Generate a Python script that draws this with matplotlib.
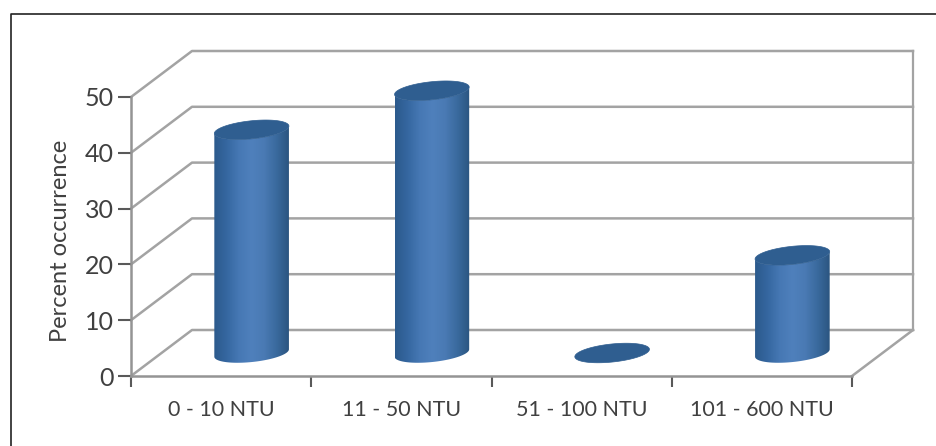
import numpy as np
import matplotlib
matplotlib.use('Agg')
import matplotlib.pyplot as plt
from matplotlib.patches import PathPatch, Polygon
from matplotlib.path import Path
from matplotlib.colors import LinearSegmentedColormap

categories = ['0 - 10 NTU', '11 - 50 NTU', '51 - 100 NTU', '101 - 600 NTU']
percent = [40, 47, 0, 17.5]
y_ticks = [0, 10, 20, 30, 40, 50]

W, H = 936, 446
# front plane of the 3d box, in pixels
LEFT, RIGHT, BOTTOM, TOP = 131, 852, 376, 97
DEPTH_X, DEPTH_Y = 61, 46  # how far the back wall is shifted
GRID = '#a3a3a3'
TEXT = '#404040'
RX, RY, TILT = 37.5, 9, np.radians(6)  # cylinder cap, pixels

plt.rcParams['font.family'] = ['Lato', 'DejaVu Sans']

fig = plt.figure(figsize=(W / 100, H / 100), dpi=100)
fig.patch.set_facecolor('white')
ax = fig.add_axes([LEFT / W, 1 - BOTTOM / H, (RIGHT - LEFT) / W, (BOTTOM - TOP) / H])
ax.set_xlim(0, len(categories))
ax.set_ylim(0, 50)
ax.patch.set_visible(False)

# px to data scale
sx = len(categories) / (RIGHT - LEFT)
sy = 50 / (BOTTOM - TOP)
dx = DEPTH_X * sx
dy = DEPTH_Y * sy

# back wall + side lines
for v in y_ticks:
    ax.plot([0, dx, 4 + dx], [v, v + dy, v + dy], color=GRID, lw=1.8, clip_on=False, zorder=1)
ax.plot([4 + dx, 4 + dx], [dy, 50 + dy], color=GRID, lw=1.6, clip_on=False, zorder=1)
ax.plot([4, 4 + dx], [0, dy], color=GRID, lw=1.8, clip_on=False, zorder=1)

# spines and ticks
for s in ['top', 'right']:
    ax.spines[s].set_visible(False)
for s in ['left', 'bottom']:
    ax.spines[s].set_color('#949494')
    ax.spines[s].set_linewidth(1.8)
ax.set_yticks(y_ticks)
ax.set_xticks(range(len(categories) + 1))
ax.set_xticklabels([])
ax.set_xticks(np.arange(len(categories)) + 0.5, categories, minor=True)
ax.tick_params(axis='x', which='major', length=8, width=1.5, color='#595959')
ax.tick_params(axis='x', which='minor', length=0, pad=17.5, labelsize=15.5, labelcolor=TEXT)
ax.tick_params(axis='y', length=9.5, width=1.5, color='#595959', pad=3, labelsize=18, labelcolor=TEXT)
ax.set_ylabel('Percent occurrence', fontsize=17, color=TEXT, labelpad=10, y=0.486)

cmap = LinearSegmentedColormap.from_list('cyl', ['#2c5a8c', '#3567a0', '#4678b4', '#4f80bc', '#4a7ab4', '#3a6a9e', '#2b5580'])
grad = np.linspace(0, 1, 256).reshape(1, -1)


def ring(cx, cy, t):
    # points of the tilted cap around a data point
    px = RX * np.cos(t) * np.cos(TILT) - RY * np.sin(t) * np.sin(TILT)
    py = RX * np.cos(t) * np.sin(TILT) + RY * np.sin(t) * np.cos(TILT)
    return np.column_stack([cx + px * sx, cy + py * sy])


# angle where the cap reaches its right end, from there half a turn is the front edge
t0 = np.arctan2(-RY * np.sin(TILT), RX * np.cos(TILT))
front = np.linspace(t0 + np.pi, t0 + 2 * np.pi, 61)
full = np.linspace(0, 2 * np.pi, 121)

for i, v in enumerate(percent):
    cx = i + 0.5 + dx / 2
    base = dy / 2
    up = ring(cx, base + v, full)
    if v > 0:
        lower = ring(cx, base, front)
        outline = np.vstack([lower, lower[::-1] + [0, v]])
        body = PathPatch(Path(np.vstack([outline, outline[:1]])), fc='none', ec='none', zorder=3, clip_on=False)
        ax.add_patch(body)
        x0, x1 = outline[:, 0].min(), outline[:, 0].max()
        y0, y1 = outline[:, 1].min(), up[:, 1].max()
        im = ax.imshow(grad, extent=[x0, x1, y0, y1], aspect='auto', cmap=cmap, zorder=3)
        im.set_clip_box(fig.bbox)
        im.set_clip_path(body)
    ax.add_patch(Polygon(up, closed=True, fc='#2f5e90', ec='#2f5e90', lw=0.5, zorder=4, clip_on=False))

ax.set_xlim(0, len(categories))
ax.set_ylim(0, 50)

# outer frame, only left and top are visible
fig.add_artist(plt.Line2D([10.5 / W, 10.5 / W, 1],
                          [0, 1 - 13.5 / H, 1 - 13.5 / H], color='#222222', lw=1.2))

fig.savefig('out.png', dpi=100)
